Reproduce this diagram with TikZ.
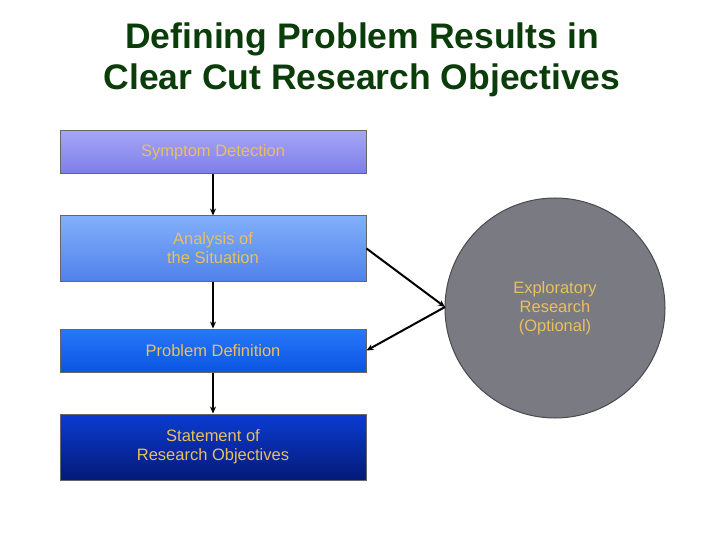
\documentclass[tikz,border=0pt]{standalone}
\usepackage{fontspec}
\setmainfont{Liberation Sans}
\usetikzlibrary{arrows.meta}
\definecolor{ttl}{HTML}{0B3D0B}
\definecolor{cir}{HTML}{7A7A82}
\definecolor{ctxt}{HTML}{E8C060}
\begin{document}
\begin{tikzpicture}[x=1pt,y=-1pt,
  box/.style={draw=gray!80!black,line width=1pt,minimum width=306pt,inner sep=0pt,align=center,text=ctxt,font=\fontsize{16.5}{19}\selectfont},
  arr/.style={-{Stealth[length=7pt,width=6pt]},line width=2pt}]
\useasboundingbox (0,0) rectangle (720,540);
\node[font=\bfseries\fontsize{35.5}{41}\selectfont,text=ttl,align=center] (t) at (362,60) {Defining Problem Results in\\Clear Cut Research Objectives};
\node[box,minimum height=43pt,top color={rgb,255:red,165;green,165;blue,245},bottom color={rgb,255:red,125;green,125;blue,235}] (b1) at (213,152.5) {Symptom Detection};
\node[box,minimum height=65pt,top color={rgb,255:red,130;green,175;blue,250},bottom color={rgb,255:red,80;green,130;blue,235}] (b2) at (213,248.5) {Analysis of\\the Situation};
\node[box,minimum height=43pt,top color={rgb,255:red,40;green,120;blue,250},bottom color={rgb,255:red,10;green,85;blue,225}] (b3) at (213,350.5) {Problem Definition};
\node[box,minimum height=66pt,top color={rgb,255:red,10;green,60;blue,210},bottom color={rgb,255:red,5;green,25;blue,120}] (b4) at (213,447) {Statement of\\Research Objectives};
\node[circle,draw=cir!60!black,line width=1pt,fill=cir,minimum size=220pt,text=ctxt,align=center,font=\fontsize{16.5}{19}\selectfont] (c) at (555,308) {Exploratory\\Research\\(Optional)};
\draw[arr] (b1.south) -- (b2.north);
\draw[arr] (b2.south) -- (b3.north);
\draw[arr] (b3.south) -- (b4.north);
\coordinate (ci) at (445,307);
\draw[arr] (b2.east) -- (ci);
\draw[arr] (ci) -- (b3.east);
\end{tikzpicture}
\end{document}
